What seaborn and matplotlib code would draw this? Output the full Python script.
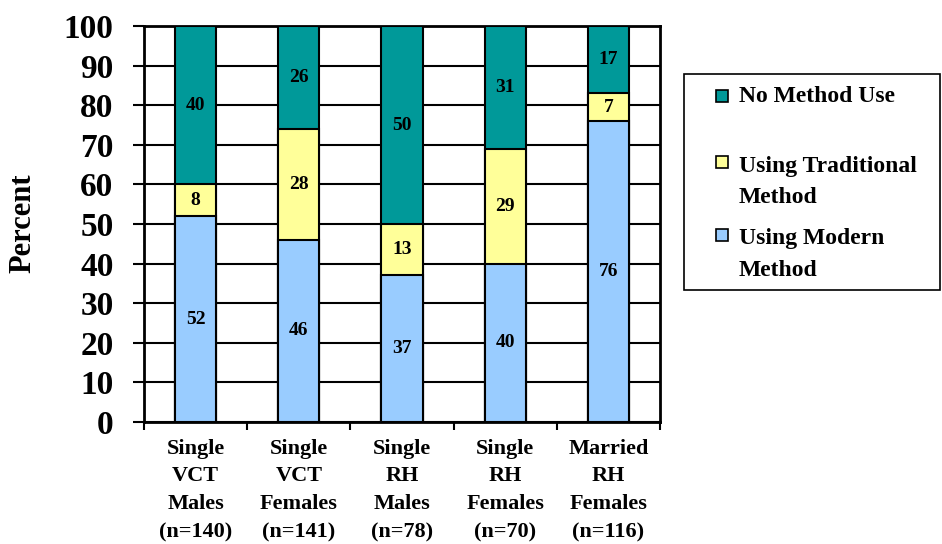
import matplotlib
matplotlib.use("Agg")
import matplotlib.pyplot as plt
from matplotlib.patches import Rectangle
import seaborn as sns
import numpy as np

# Groups and contraceptive-use shares (percent)
categories = [
    "Single\nVCT\nMales\n(n=140)",
    "Single\nVCT\nFemales\n(n=141)",
    "Single\nRH\nMales\n(n=78)",
    "Single\nRH\nFemales\n(n=70)",
    "Married\nRH\nFemales\n(n=116)",
]
modern = [52, 46, 37, 40, 76]
traditional = [8, 28, 13, 29, 7]
no_method = [40, 26, 50, 31, 17]

series_names = ["No Method Use", "Using Traditional\nMethod", "Using Modern\nMethod"]
colors = {"modern": "#99CCFF", "traditional": "#FFFF99", "none": "#009999"}

sns.set_style("white")
plt.rcParams["font.family"] = ["Liberation Serif", "DejaVu Serif"]
plt.rcParams["font.weight"] = "bold"
for key in ("text.color", "axes.labelcolor", "xtick.color", "ytick.color"):
    plt.rcParams[key] = "black"

W, H = 942, 544
fig = plt.figure(figsize=(W / 100, H / 100), dpi=100)
ax = fig.add_axes([144 / W, 1 - 422 / H, (660 - 144) / W, (422 - 26) / H])

m = np.array(modern)
t = np.array(traditional)
n = np.array(no_method)
top_total = m + t + n
mid_total = m + t

# Layered stacks: full column first, then the lower segments drawn over it
bar_kw = dict(width=0.4, edgecolor="black", linewidth=1.5, ax=ax, zorder=3)
sns.barplot(x=categories, y=top_total, color=colors["none"], saturation=1, **bar_kw)
sns.barplot(x=categories, y=mid_total, color=colors["traditional"], saturation=1, **bar_kw)
sns.barplot(x=categories, y=m, color=colors["modern"], saturation=1, **bar_kw)

# Segment value labels
for i in range(len(categories)):
    for lo, val in ((0, m[i]), (m[i], t[i]), (m[i] + t[i], n[i])):
        ax.text(i, lo + val / 2, str(val), ha="center", va="center",
                fontsize=14, fontweight="bold", color="black", zorder=5)

ax.set_ylim(0, 100)
ax.set_xlim(-0.5, len(categories) - 0.5)
ax.set_yticks(np.arange(0, 101, 10))
ax.yaxis.grid(True, color="black", linewidth=1.5, zorder=0)
ax.set_axisbelow(True)
ax.tick_params(axis="y", which="major", left=True, length=8, width=1.5,
               pad=14, labelsize=24, direction="out", colors="black")
for lab in ax.get_yticklabels():
    lab.set_fontweight("bold")

# Category labels at bar centres, tick marks at category boundaries
ax.set_xticks(range(len(categories)))
ax.set_xticklabels(categories, fontsize=16, fontweight="bold")
ax.tick_params(axis="x", which="major", length=0, pad=12, colors="black")
for tick in ax.xaxis.get_major_ticks():
    tick.label1.set_linespacing(1.52)
ax.set_xticks(np.arange(-0.5, len(categories), 1), minor=True)
ax.tick_params(axis="x", which="minor", bottom=True, length=6, width=1.5,
               direction="out", colors="black")

ax.set_ylabel("")
ax.set_xlabel("")
fig.text(23 / W, 1 - 223 / H, "Percent", rotation=90, ha="center", va="center",
         fontsize=22, fontweight="bold", color="black")

for side in ("left", "right", "top", "bottom"):
    ax.spines[side].set_visible(True)
    ax.spines[side].set_color("black")
    ax.spines[side].set_linewidth(2)

# Legend box
fig.add_artist(Rectangle((684 / W, 1 - 290 / H), (940 - 684) / W, (290 - 74) / H,
                         transform=fig.transFigure, facecolor="white",
                         edgecolor="black", linewidth=1.2))
legend_items = [
    (series_names[0], colors["none"], 96, 97),
    (series_names[1], colors["traditional"], 162, 182),
    (series_names[2], colors["modern"], 235, 254.5),
]
for label, col, sq_y, txt_y in legend_items:
    fig.add_artist(Rectangle((716 / W, 1 - (sq_y + 6) / H), 12 / W, 12 / H,
                             transform=fig.transFigure, facecolor=col,
                             edgecolor="black", linewidth=1.2))
    fig.text(739 / W, 1 - txt_y / H, label, ha="left", va="center",
             fontsize=17, fontweight="bold", linespacing=1.66, color="black")

fig.savefig("out.png", dpi=100)
